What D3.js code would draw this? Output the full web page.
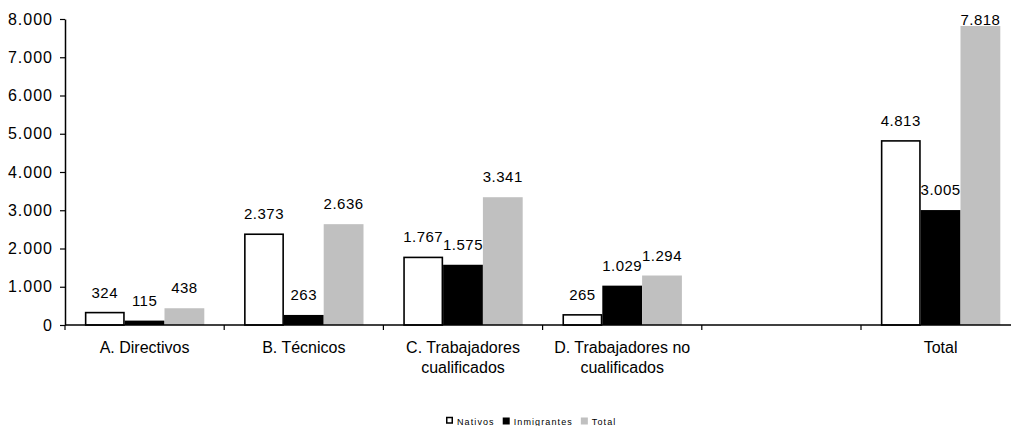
<!DOCTYPE html>
<html>
<head>
<meta charset="utf-8">
<script src="https://cdn.jsdelivr.net/npm/d3@7"></script>
<style>
  html, body { margin: 0; padding: 0; background: #fff; }
  svg { display: block; font-family: "Liberation Sans", Arial, sans-serif; }
</style>
</head>
<body>
<div id="chart"></div>
<script>
// ---- data ----
const categories = ["A. Directivos", "B. Técnicos", "C. Trabajadores\ncualificados", "D. Trabajadores no\ncualificados", " ", "Total"];
const seriesNames = ["Nativos", "Inmigrantes", "Total"];
const nativos     = [324, 2373, 1767, 265, null, 4813];
const inmigrantes = [115, 263, 1575, 1029, null, 3005];
const totales     = [438, 2636, 3341, 1294, null, 7818];
const yTicks = [0, 1000, 2000, 3000, 4000, 5000, 6000, 7000, 8000];

(function () {
const seriesValues = [nativos, inmigrantes, totales];
const fills   = ["#ffffff", "#000000", "#c0c0c0"];
const strokes = ["#000000", "none", "none"];

const W = 1011, H = 426;
const mLeft = 65, bandW = 159.2, mTop = 19, mBottom = 325;

const svg = d3.select("#chart").append("svg").attr("width", W).attr("height", H);

const loc = d3.formatLocale({decimal: ",", thousands: ".", grouping: [3], currency: ["", ""]});
const fmt = loc.format(",d");

const x = d3.scaleBand().domain(categories).range([mLeft, mLeft + bandW * categories.length]).paddingInner(0).paddingOuter(0);
const y = d3.scaleLinear().domain([0, 8000]).range([mBottom, mTop]);
const xs = d3.scaleBand().domain(seriesNames).range([0, x.bandwidth()]).paddingInner(0).paddingOuter(0.5);

// bars
seriesNames.forEach((s, si) => {
  const data = categories.map((c, i) => ({c, v: seriesValues[si][i]})).filter(d => d.v != null);
  svg.append("g").selectAll("rect").data(data).enter().append("rect")
    .attr("x", d => x(d.c) + xs(s) + (si === 0 ? 0.75 : 0))
    .attr("y", d => y(d.v))
    .attr("width", xs.bandwidth() - (si === 0 ? 1.5 : 0))
    .attr("height", d => y(0) - y(d.v))
    .attr("fill", fills[si])
    .attr("stroke", strokes[si])
    .attr("stroke-width", 1.6);
});

// labels
seriesNames.forEach((s, si) => {
  const data = categories.map((c, i) => ({c, v: seriesValues[si][i]})).filter(d => d.v != null);
  svg.append("g").selectAll("text").data(data).enter().append("text")
    .attr("x", d => x(d.c) + xs(s) + xs.bandwidth() / 2)
    .attr("y", d => Math.max(y(d.v) - 15, 25))
    .attr("text-anchor", "middle")
    .attr("font-size", 15)
    .attr("letter-spacing", "0.5px")
    .attr("fill", "#000")
    .text(d => fmt(d.v));
});

// y axis
const yAxis = d3.axisLeft(y).tickValues(yTicks).tickFormat(fmt).tickSize(5).tickSizeOuter(0).tickPadding(7);
const gy = svg.append("g").attr("transform", `translate(${mLeft},0)`).call(yAxis);
gy.select(".domain").attr("stroke", "#000").attr("stroke-width", 1.5);
gy.selectAll(".tick line").attr("stroke", "#000").attr("stroke-width", 1.2);
gy.selectAll(".tick text").attr("font-size", 16).attr("letter-spacing", "1px").attr("fill", "#000")
  .attr("font-family", "Liberation Sans, Arial, sans-serif");

// x axis
const gx = svg.append("g");
gx.append("line").attr("x1", mLeft).attr("x2", mLeft + bandW * categories.length)
  .attr("y1", mBottom).attr("y2", mBottom).attr("stroke", "#000").attr("stroke-width", 1.5);
const bounds = categories.map(c => x(c)).concat([x(categories[categories.length - 1]) + x.bandwidth()]);
gx.selectAll("line.tk").data(bounds).enter().append("line").attr("class", "tk")
  .attr("x1", d => d).attr("x2", d => d).attr("y1", mBottom).attr("y2", mBottom + 5)
  .attr("stroke", "#000").attr("stroke-width", 1.2);
const xl = gx.selectAll("text.cat").data(categories).enter().append("text").attr("class", "cat")
  .attr("x", d => x(d) + x.bandwidth() / 2)
  .attr("y", 353)
  .attr("text-anchor", "middle")
  .attr("font-size", 16)
  .attr("fill", "#000");
xl.each(function(d) {
  const lines = d.split("\n");
  d3.select(this).selectAll("tspan").data(lines).enter().append("tspan")
    .attr("x", x(d) + x.bandwidth() / 2)
    .attr("dy", (l, i) => i === 0 ? 0 : 19.5)
    .text(l => l);
});

// legend
const lg = svg.append("g").attr("transform", "translate(446,0)");
let cx = 0;
seriesNames.forEach((s, si) => {
  lg.append("rect").attr("x", cx + (si === 0 ? 0.75 : 0)).attr("y", 417.5)
    .attr("width", si === 0 ? 5.5 : 7).attr("height", si === 0 ? 5.5 : 7)
    .attr("fill", fills[si]).attr("stroke", si === 0 ? "#000" : "none").attr("stroke-width", 1.5);
  const t = lg.append("text").attr("x", cx + 11).attr("y", 424.5)
    .attr("font-size", 9).attr("letter-spacing", "1.1px").attr("fill", "#000").text(s);
  cx += 11 + t.node().getComputedTextLength() + 8;
});
})();
</script>
</body>
</html>
